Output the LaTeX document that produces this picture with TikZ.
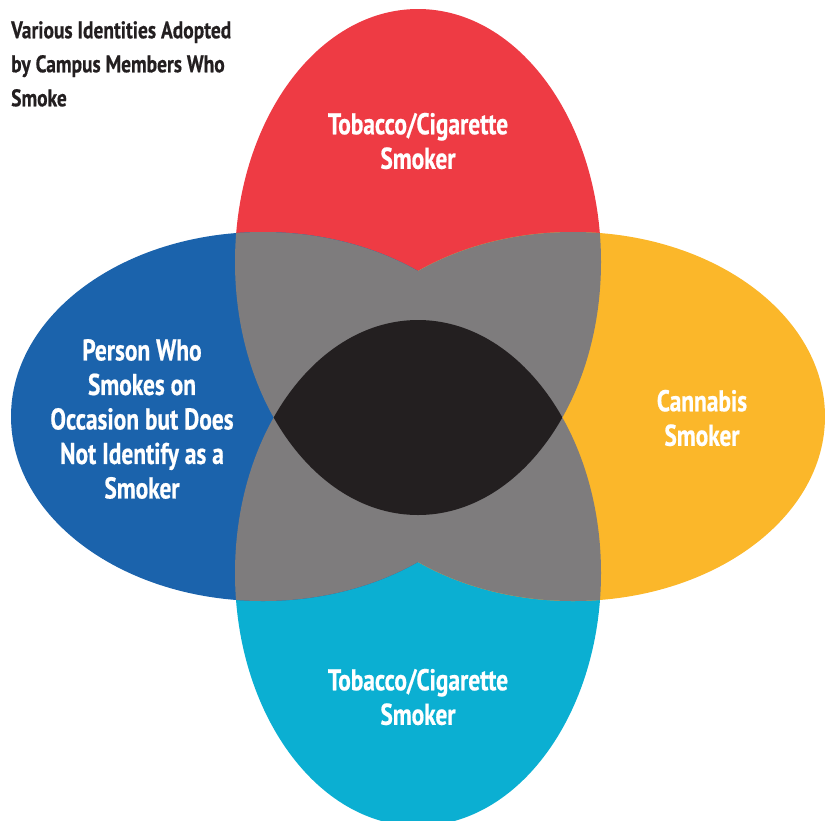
\documentclass[tikz,border=0pt]{standalone}
\usepackage{fontspec}
\newfontfamily\condfont{PT Sans}[FakeStretch=0.78, FakeBold=0.6]
\newfontfamily\titlefont{PT Sans}[FakeStretch=0.81, FakeBold=0.5]
\definecolor{cRed}{HTML}{EE3B44}
\definecolor{cBlue}{HTML}{1B63AC}
\definecolor{cYellow}{HTML}{FBB72A}
\definecolor{cCyan}{HTML}{0BAFD2}
\definecolor{cGray}{HTML}{7E7C7D}
\definecolor{cDark}{HTML}{231F20}
% the four petals
\newcommand\petalTop{(418,262) ellipse [x radius=183pt, y radius=253pt]}
\newcommand\petalBottom{(418,573) ellipse [x radius=183pt, y radius=253pt]}
\newcommand\petalLeft{(263,416.5) ellipse [x radius=252pt, y radius=184.5pt]}
\newcommand\petalRight{(573,416.5) ellipse [x radius=252pt, y radius=184.5pt]}
\begin{document}
\begin{tikzpicture}[x=1pt,y=-1pt,
  petallabel/.style={text=white, align=center, inner sep=0pt,
    font=\condfont\bfseries\fontsize{30}{34.5}\selectfont},
  titletext/.style={text=cDark, align=left, inner sep=0pt,
    font=\titlefont\bfseries\fontsize{24}{34}\selectfont}]
\useasboundingbox (0,0) rectangle (825,820);
% single petals
\fill[cRed] \petalTop;
\fill[cCyan] \petalBottom;
\fill[cBlue] \petalLeft;
\fill[cYellow] \petalRight;
% pairwise overlaps in gray
\begin{scope}\clip \petalTop; \fill[cGray] \petalLeft; \fill[cGray] \petalRight; \end{scope}
\begin{scope}\clip \petalBottom; \fill[cGray] \petalLeft; \fill[cGray] \petalRight; \end{scope}
\begin{scope}\clip \petalLeft; \fill[cGray] \petalRight; \end{scope}
% top and bottom overlap in the middle
\begin{scope}\clip \petalTop; \fill[cDark] \petalBottom; \end{scope}
% labels
\node[petallabel] (top) at (418,141) {Tobacco/Cigarette\\Smoker};
\node[petallabel] (bottom) at (418,697) {Tobacco/Cigarette\\Smoker};
\node[petallabel] (left) at (142,419) {Person Who\\Smokes on\\Occasion but Does\\Not Identify as a\\Smoker};
\node[petallabel] (right) at (702,418) {Cannabis\\Smoker};
\node[titletext, anchor=north west] (title) at (11,21) {Various Identities Adopted\\by Campus Members Who\\Smoke};
\end{tikzpicture}
\end{document}
